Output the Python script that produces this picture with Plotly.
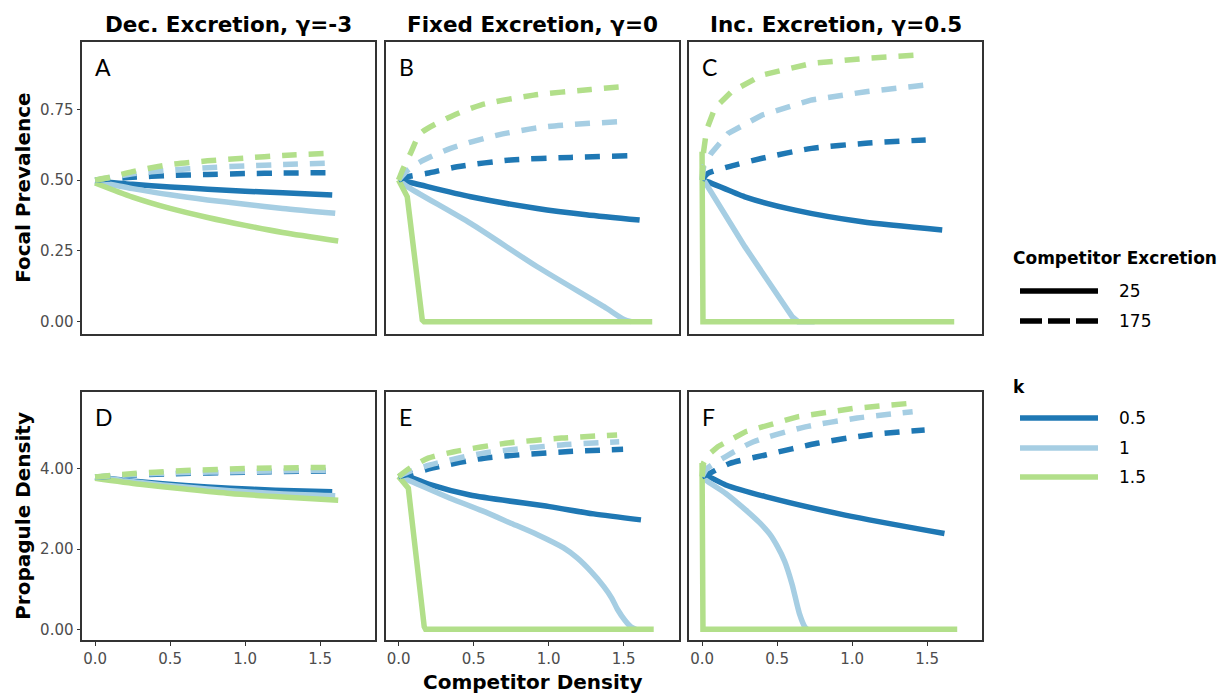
import plotly.graph_objects as go

W, H = 1231, 696

# ---------------- labels ----------------
col_titles = ["Dec. Excretion, \u03b3=-3", "Fixed Excretion, \u03b3=0", "Inc. Excretion, \u03b3=0.5"]
panel_letters = ["A", "B", "C", "D", "E", "F"]
row_titles = ["Focal Prevalence", "Propagule Density"]
x_title = "Competitor Density"
k_levels = ["0.5", "1", "1.5"]
excretion_levels = ["25", "175"]
x_tickvals = [0, 0.5, 1.0, 1.5]
x_ticktext = ["0.0", "0.5", "1.0", "1.5"]
top_tickvals = [0, 0.25, 0.5, 0.75]
top_ticktext = ["0.00", "0.25", "0.50", "0.75"]
bot_tickvals = [0, 2, 4]
bot_ticktext = ["0.00", "2.00", "4.00"]

# ---------------- data ----------------
# Panel A: gamma=-3, focal prevalence
A_k05_25_x = [0, 0.25, 0.5, 0.75, 1.0, 1.25, 1.58]
A_k05_25_y = [0.497, 0.485, 0.476, 0.468, 0.461, 0.455, 0.447]
A_k1_25_x = [0, 0.25, 0.5, 0.75, 1.0, 1.25, 1.6]
A_k1_25_y = [0.495, 0.47, 0.448, 0.43, 0.415, 0.40, 0.383]
A_k15_25_x = [0, 0.25, 0.5, 0.75, 1.0, 1.25, 1.62]
A_k15_25_y = [0.49, 0.44, 0.40, 0.368, 0.34, 0.315, 0.285]
A_k05_175_x = [0, 0.25, 0.5, 0.75, 1.0, 1.25, 1.58]
A_k05_175_y = [0.50, 0.51, 0.516, 0.52, 0.523, 0.525, 0.526]
A_k1_175_x = [0, 0.25, 0.5, 0.75, 1.0, 1.25, 1.58]
A_k1_175_y = [0.50, 0.522, 0.535, 0.544, 0.55, 0.555, 0.56]
A_k15_175_x = [0, 0.1, 0.25, 0.5, 0.75, 1.0, 1.25, 1.58]
A_k15_175_y = [0.50, 0.51, 0.53, 0.555, 0.568, 0.578, 0.587, 0.595]

# Panel B: gamma=0, focal prevalence
B_k05_25_x = [0, 0.058, 0.48, 0.924, 1.25, 1.606]
B_k05_25_y = [0.50, 0.494, 0.441, 0.40, 0.378, 0.359]
B_k1_25_x = [0, 0.058, 0.48, 0.924, 1.369, 1.502, 1.55]
B_k1_25_y = [0.50, 0.477, 0.347, 0.194, 0.053, 0.008, 0.0]
B_k15_25_x = [0, 0.058, 0.158, 0.17, 1.69]
B_k15_25_y = [0.50, 0.441, 0.006, 0.0, 0.0]
B_k05_175_x = [0, 0.04, 0.19, 0.39, 0.747, 1.147, 1.525]
B_k05_175_y = [0.50, 0.51, 0.524, 0.547, 0.571, 0.58, 0.586]
B_k1_175_x = [0, 0.05, 0.147, 0.347, 0.658, 0.991, 1.458]
B_k1_175_y = [0.50, 0.53, 0.565, 0.612, 0.659, 0.689, 0.706]
B_k15_175_x = [0, 0.03, 0.08, 0.147, 0.347, 0.547, 0.9, 1.28, 1.5]
B_k15_175_y = [0.50, 0.54, 0.595, 0.665, 0.724, 0.765, 0.80, 0.82, 0.83]

# Panel C: gamma=0.5, focal prevalence
C_k05_25_x = [0, 0.04, 0.285, 0.62, 1.066, 1.6]
C_k05_25_y = [0.50, 0.494, 0.441, 0.394, 0.353, 0.324]
C_k1_25_x = [0, 0.018, 0.285, 0.60, 0.64, 0.75]
C_k1_25_y = [0.50, 0.494, 0.265, 0.018, 0.0, 0.0]
C_k15_25_x = [0, 0.006, 1.68]
C_k15_25_y = [0.60, 0.0, 0.0]
C_k05_175_x = [0, 0.04, 0.174, 0.40, 0.73, 1.09, 1.49]
C_k05_175_y = [0.50, 0.524, 0.547, 0.577, 0.612, 0.63, 0.642]
C_k1_175_x = [0, 0.01, 0.062, 0.174, 0.40, 0.73, 1.09, 1.49]
C_k1_175_y = [0.50, 0.547, 0.595, 0.665, 0.73, 0.783, 0.812, 0.836]
C_k15_175_x = [0, 0.01, 0.03, 0.085, 0.196, 0.40, 0.73, 1.09, 1.445]
C_k15_175_y = [0.50, 0.60, 0.677, 0.754, 0.812, 0.871, 0.912, 0.93, 0.942]

# Panel D: gamma=-3, propagule density
D_k05_25_x = [0, 0.3, 0.6, 0.9, 1.2, 1.58]
D_k05_25_y = [3.80, 3.68, 3.59, 3.52, 3.47, 3.43]
D_k1_25_x = [0, 0.3, 0.6, 0.9, 1.2, 1.6]
D_k1_25_y = [3.80, 3.66, 3.55, 3.46, 3.39, 3.33]
D_k15_25_x = [0, 0.3, 0.6, 0.9, 1.25, 1.62]
D_k15_25_y = [3.77, 3.62, 3.50, 3.39, 3.30, 3.22]
D_k05_175_x = [0, 0.2, 0.5, 1.0, 1.55]
D_k05_175_y = [3.80, 3.84, 3.88, 3.92, 3.95]
D_k1_175_x = [0, 0.2, 0.5, 1.0, 1.55]
D_k1_175_y = [3.80, 3.85, 3.90, 3.94, 3.97]
D_k15_175_x = [0, 0.2, 0.4, 0.6, 1.0, 1.55]
D_k15_175_y = [3.80, 3.87, 3.92, 3.96, 4.01, 4.04]

# Panel E: gamma=0, propagule density
E_k05_25_x = [0, 0.065, 0.2, 0.476, 1.006, 1.3, 1.615]
E_k05_25_y = [3.81, 3.81, 3.62, 3.35, 3.06, 2.88, 2.73]
E_k1_25_x = [0, 0.065, 0.343, 0.555, 0.741, 0.926, 1.1, 1.19, 1.28, 1.369, 1.42, 1.458, 1.509, 1.549, 1.58]
E_k1_25_y = [3.81, 3.72, 3.27, 2.96, 2.66, 2.36, 2.03, 1.78, 1.45, 1.06, 0.78, 0.50, 0.22, 0.06, 0.0]
E_k15_25_x = [0, 0.065, 0.171, 0.18, 1.70]
E_k15_25_y = [3.81, 3.52, 0.065, 0.0, 0.0]
E_k05_175_x = [0, 0.06, 0.224, 0.569, 1.112, 1.496]
E_k05_175_y = [3.81, 3.86, 4.02, 4.27, 4.43, 4.49]
E_k1_175_x = [0, 0.06, 0.21, 0.555, 1.085, 1.47]
E_k1_175_y = [3.81, 3.92, 4.10, 4.39, 4.60, 4.68]
E_k15_175_x = [0, 0.066, 0.197, 0.37, 0.713, 1.085, 1.456]
E_k15_175_y = [3.81, 4.00, 4.27, 4.43, 4.64, 4.77, 4.85]

# Panel F: gamma=0.5, propagule density
F_k05_25_x = [0, 0.04, 0.158, 0.423, 0.953, 1.615]
F_k05_25_y = [3.81, 3.81, 3.60, 3.31, 2.85, 2.39]
F_k1_25_x = [0, 0.025, 0.158, 0.29, 0.383, 0.45, 0.5, 0.55, 0.6, 0.648, 0.688, 0.70]
F_k1_25_y = [3.81, 3.72, 3.39, 2.98, 2.66, 2.38, 2.08, 1.70, 1.12, 0.40, 0.04, 0.0]
F_k15_25_x = [0, 0.006, 1.70]
F_k15_25_y = [4.15, 0.0, 0.0]
F_k05_175_x = [0, 0.05, 0.185, 0.423, 0.767, 1.112, 1.483]
F_k05_175_y = [3.81, 3.89, 4.14, 4.35, 4.64, 4.85, 4.97]
F_k1_175_x = [0, 0.03, 0.158, 0.343, 0.688, 1.033, 1.403]
F_k1_175_y = [3.81, 4.00, 4.31, 4.68, 5.05, 5.27, 5.43]
F_k15_175_x = [0, 0.01, 0.04, 0.105, 0.29, 0.635, 1.006, 1.377, 1.42]
F_k15_175_y = [3.81, 4.15, 4.35, 4.556, 4.93, 5.30, 5.51, 5.64, 5.65]

panels = {
    "A": [(A_k05_25_x, A_k05_25_y), (A_k1_25_x, A_k1_25_y), (A_k15_25_x, A_k15_25_y),
          (A_k05_175_x, A_k05_175_y), (A_k1_175_x, A_k1_175_y), (A_k15_175_x, A_k15_175_y)],
    "B": [(B_k05_25_x, B_k05_25_y), (B_k1_25_x, B_k1_25_y), (B_k15_25_x, B_k15_25_y),
          (B_k05_175_x, B_k05_175_y), (B_k1_175_x, B_k1_175_y), (B_k15_175_x, B_k15_175_y)],
    "C": [(C_k05_25_x, C_k05_25_y), (C_k1_25_x, C_k1_25_y), (C_k15_25_x, C_k15_25_y),
          (C_k05_175_x, C_k05_175_y), (C_k1_175_x, C_k1_175_y), (C_k15_175_x, C_k15_175_y)],
    "D": [(D_k05_25_x, D_k05_25_y), (D_k1_25_x, D_k1_25_y), (D_k15_25_x, D_k15_25_y),
          (D_k05_175_x, D_k05_175_y), (D_k1_175_x, D_k1_175_y), (D_k15_175_x, D_k15_175_y)],
    "E": [(E_k05_25_x, E_k05_25_y), (E_k1_25_x, E_k1_25_y), (E_k15_25_x, E_k15_25_y),
          (E_k05_175_x, E_k05_175_y), (E_k1_175_x, E_k1_175_y), (E_k15_175_x, E_k15_175_y)],
    "F": [(F_k05_25_x, F_k05_25_y), (F_k1_25_x, F_k1_25_y), (F_k15_25_x, F_k15_25_y),
          (F_k05_175_x, F_k05_175_y), (F_k1_175_x, F_k1_175_y), (F_k15_175_x, F_k15_175_y)],
}
# series order inside each panel: (k, excretion)
series_keys = [(k, "25") for k in k_levels] + [(k, "175") for k in k_levels]

# ---------------- styles ----------------
k_colors = {"0.5": "#1F78B4", "1": "#A6CEE3", "1.5": "#B2DF8A"}
exc_dash = {"25": "solid", "175": "15px,12px"}
LW = 5.5
FONT = "DejaVu Sans"
TICK_COLOR = "#4D4D4D"
FRAME = "#333333"

# kinked series drawn linear, rest smoothed
kinked = {("B", "1.5", "25"), ("C", "1", "25"), ("C", "1.5", "25"),
          ("E", "1.5", "25"), ("F", "1.5", "25"),
          ("C", "1.5", "175"), ("F", "1.5", "175"), ("C", "1", "175")}

# layout geometry in pixels
col_px = [(82.3, 375.3), (385.8, 678.8), (689.3, 982.3)]
row_px = [(41.7, 334.0), (391.7, 640.0)]
x_range = [-0.085, 1.867]
y_ranges = [[-0.0434, 0.9887], [-0.267, 5.928]]


def px_x(p):
    return p / W


def px_y(p):
    return 1 - p / H


fig = go.Figure()
layout = dict(
    width=W, height=H,
    margin=dict(l=0, r=0, t=0, b=0),
    paper_bgcolor="white", plot_bgcolor="white",
    showlegend=False,
    font=dict(family=FONT, color="black"),
)

annotations = []
shapes = []

for i, letter in enumerate(panel_letters):
    r, c = divmod(i, 3)
    n = i + 1
    xa = "xaxis" if n == 1 else f"xaxis{n}"
    ya = "yaxis" if n == 1 else f"yaxis{n}"
    xr = "x" if n == 1 else f"x{n}"
    yr = "y" if n == 1 else f"y{n}"
    (x0, x1), (y0, y1) = col_px[c], row_px[r]
    show_x = r == 1
    show_y = c == 0
    layout[xa] = dict(
        domain=[px_x(x0), px_x(x1)], range=x_range, anchor=yr,
        showline=True, mirror=True, linecolor=FRAME, linewidth=1.6,
        showgrid=False, zeroline=False,
        ticks="outside" if show_x else "", ticklen=4, tickwidth=1.2, tickcolor=FRAME,
        showticklabels=show_x, tickvals=x_tickvals, ticktext=x_ticktext,
        tickfont=dict(family=FONT, size=15, color=TICK_COLOR),
    )
    layout[ya] = dict(
        domain=[px_y(y1), px_y(y0)], range=y_ranges[r], anchor=xr,
        showline=True, mirror=True, linecolor=FRAME, linewidth=1.6,
        showgrid=False, zeroline=False,
        ticks="outside" if show_y else "", ticklen=4, tickwidth=1.2, tickcolor=FRAME,
        showticklabels=show_y,
        tickvals=top_tickvals if r == 0 else bot_tickvals,
        ticktext=top_ticktext if r == 0 else bot_ticktext,
        tickfont=dict(family=FONT, size=15, color=TICK_COLOR),
    )
    for (k, exc), (xs, ys) in zip(series_keys, panels[letter]):
        shape = "linear" if (letter, k, exc) in kinked else "spline"
        fig.add_trace(go.Scatter(
            x=xs, y=ys, mode="lines", xaxis=xr, yaxis=yr,
            line=dict(color=k_colors[k], width=LW, dash=exc_dash[exc], shape=shape,
                      smoothing=0.7 if shape == "spline" else None),
            hoverinfo="skip",
        ))
    # panel letter
    annotations.append(dict(
        text=letter, xref="paper", yref="paper", x=px_x(x0 + 11), y=px_y(y0 + 25),
        xanchor="left", yanchor="middle", showarrow=False,
        font=dict(family="Lato", size=23, color="black"),
    ))

# column titles
for c, t in enumerate(col_titles):
    x0, x1 = col_px[c]
    annotations.append(dict(
        text=f"<b>{t}</b>", xref="paper", yref="paper", x=px_x((x0 + x1) / 2), y=px_y(24.5),
        xanchor="center", yanchor="middle", showarrow=False,
        font=dict(family=FONT, size=21.5, color="black"),
    ))
# row (y-axis) titles
for r, t in enumerate(row_titles):
    y0, y1 = row_px[r]
    annotations.append(dict(
        text=f"<b>{t}</b>", xref="paper", yref="paper", x=px_x(23), y=px_y((y0 + y1) / 2),
        xanchor="center", yanchor="middle", showarrow=False, textangle=-90,
        font=dict(family=FONT, size=20, color="black"),
    ))
# x title
annotations.append(dict(
    text=f"<b>{x_title}</b>", xref="paper", yref="paper", x=px_x(532), y=px_y(682),
    xanchor="center", yanchor="middle", showarrow=False,
    font=dict(family=FONT, size=20, color="black"),
))

# legends (drawn as guides)
LEG_X0, LEG_X1, LEG_TX = 1020, 1098, 1117
annotations.append(dict(
    text="<b>Competitor Excretion</b>", xref="paper", yref="paper", x=px_x(1011), y=px_y(258),
    xanchor="left", yanchor="middle", showarrow=False, font=dict(family=FONT, size=17, color="black"),
))
leg_exc_y = [291, 321]
leg_exc_dash = {"25": "solid", "175": "22px,6px"}
for lab, yy in zip(excretion_levels, leg_exc_y):
    shapes.append(dict(type="line", xref="paper", yref="paper",
                       x0=px_x(LEG_X0), x1=px_x(LEG_X1), y0=px_y(yy), y1=px_y(yy),
                       line=dict(color="black", width=LW, dash=leg_exc_dash[lab])))
    annotations.append(dict(text=lab, xref="paper", yref="paper", x=px_x(LEG_TX), y=px_y(yy),
                            xanchor="left", yanchor="middle", showarrow=False,
                            font=dict(family=FONT, size=17, color="black")))
annotations.append(dict(
    text="<b>k</b>", xref="paper", yref="paper", x=px_x(1011), y=px_y(387),
    xanchor="left", yanchor="middle", showarrow=False, font=dict(family=FONT, size=17, color="black"),
))
leg_k_y = [418, 448, 477]
for lab, yy in zip(k_levels, leg_k_y):
    shapes.append(dict(type="line", xref="paper", yref="paper",
                       x0=px_x(LEG_X0), x1=px_x(LEG_X1), y0=px_y(yy), y1=px_y(yy),
                       line=dict(color=k_colors[lab], width=LW)))
    annotations.append(dict(text=lab, xref="paper", yref="paper", x=px_x(LEG_TX), y=px_y(yy),
                            xanchor="left", yanchor="middle", showarrow=False,
                            font=dict(family=FONT, size=17, color="black")))

layout["annotations"] = annotations
layout["shapes"] = shapes
fig.update_layout(**layout)
fig.write_html("out.html")
